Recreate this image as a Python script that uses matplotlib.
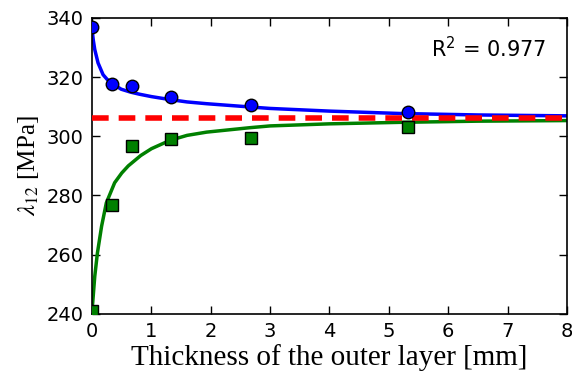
import matplotlib
matplotlib.use("Agg")
import matplotlib.pyplot as plt

plt.rcParams['mathtext.fontset'] = 'stix'

# measured points
thick = [0.0, 0.33, 0.67, 1.33, 2.67, 5.33]
lam_outer = [336.9, 317.5, 317.0, 313.1, 310.6, 308.2]
lam_inner = [241.0, 276.8, 296.6, 299.1, 299.3, 303.0]

# fitted curves
fit_x_out = [0.0, 0.02, 0.045, 0.1, 0.185, 0.25, 0.325, 0.49, 0.65, 0.8, 1.0, 1.31, 1.6, 1.93, 2.66, 3.0, 4.0, 5.18, 6.5, 8.0]
fit_outer = [336.0, 332.5, 329.3, 324.8, 320.8, 319.3, 318.0, 315.9, 314.9, 314.2, 313.4, 312.4, 311.6, 311.0, 309.9, 309.4, 308.5, 307.7, 307.2, 306.9]
fit_x_in = [0.0, 0.01, 0.045, 0.09, 0.16, 0.24, 0.38, 0.5, 0.61, 0.82, 1.0, 1.31, 1.6, 1.93, 2.66, 3.0, 4.0, 5.18, 6.5, 8.0]
fit_inner = [242.0, 243.7, 252.7, 260.6, 269.6, 277.5, 284.3, 287.6, 290.0, 293.5, 295.8, 298.6, 300.3, 301.4, 302.9, 303.5, 304.2, 304.7, 305.1, 305.3]

ref_level = 306.2
r2 = 0.977

fig = plt.figure(figsize=(5.72, 3.80), dpi=100)
ax = fig.add_axes([0.161, 0.174, 0.830, 0.779])

ax.plot(fit_x_out, fit_outer, color='#0000ff', lw=2.5, zorder=2, solid_joinstyle='round')
ax.plot(fit_x_in, fit_inner, color='#008000', lw=2.5, zorder=2, solid_joinstyle='round')
ax.axhline(ref_level, color='#ff0000', lw=4, ls=(0, (3, 1.8)), zorder=3)
ax.plot(thick, lam_outer, 'o', color='#0000ff', mec='k', mew=1, ms=9, zorder=4)
ax.plot(thick, lam_inner, 's', color='#008000', mec='k', mew=1, ms=8.5, zorder=4)

ax.set_xlim(0, 8)
ax.set_ylim(240, 340)
ax.set_xticks(range(0, 9))
ax.set_yticks(range(240, 341, 20))
ax.tick_params(direction='in', top=True, right=True, labelsize=14, length=6, width=1, pad=6)
for sp in ax.spines.values():
    sp.set_linewidth(1.2)

ax.set_xlabel('Thickness of the outer layer [mm]', family='Liberation Serif', fontsize=21, labelpad=2)
ax.set_ylabel(r'$\lambda_{12}$ [MPa]', family='Liberation Serif', fontsize=18, labelpad=4)
ax.text(0.955, 0.895, r'R$^2$ = %.3f' % r2, transform=ax.transAxes, ha='right', va='center',
        fontsize=15, math_fontfamily='dejavusans')

fig.savefig('out.png', dpi=100)
